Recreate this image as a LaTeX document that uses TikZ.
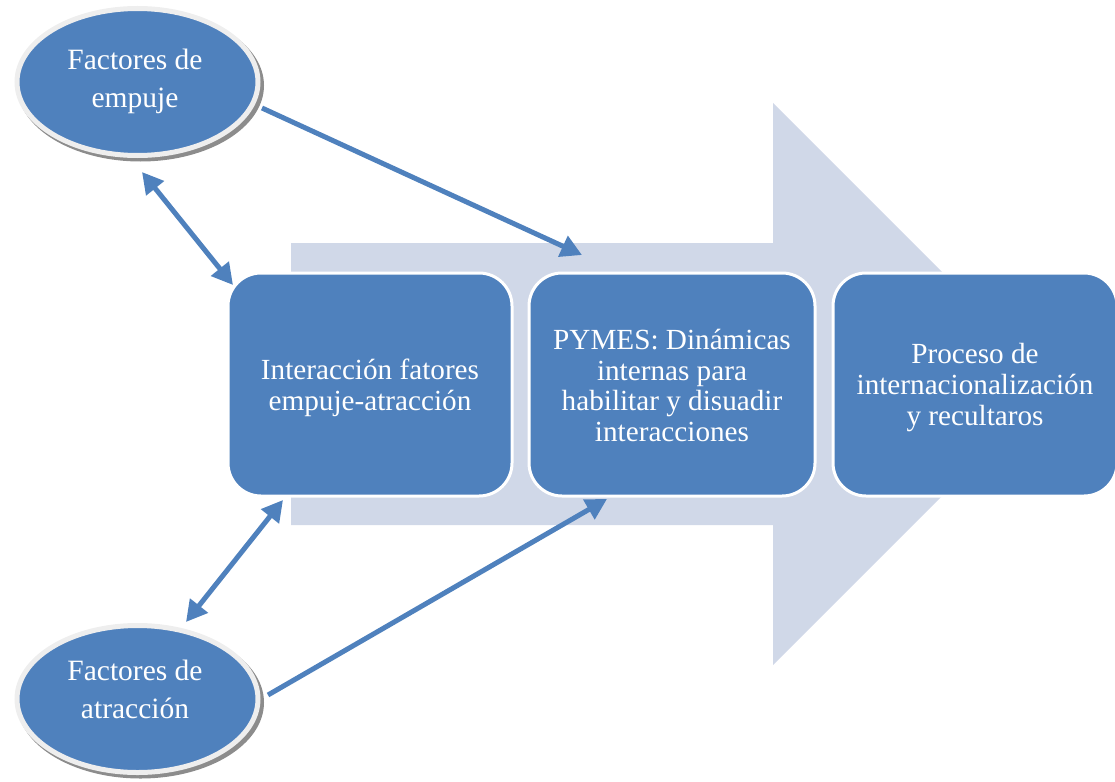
\documentclass[tikz,border=0pt]{standalone}
\usepackage{fontspec}
\setmainfont{Liberation Serif}
\usetikzlibrary{shapes.geometric,arrows.meta,calc}
\definecolor{boxblue}{HTML}{4F81BD}
\definecolor{flowgrey}{HTML}{D0D8E8}
\definecolor{rimgrey}{HTML}{EEEEEE}
\definecolor{shadowgrey}{HTML}{8C8C8C}
\tikzset{
  stagebox/.style={draw=white, line width=3pt, fill=boxblue, rounded corners=33pt,
    inner sep=0pt, minimum height=223pt},
  stagetext/.style={text=white, align=center, font=\fontsize{29.2}{30.8}\selectfont, inner sep=0pt},
  factor/.style={ellipse, draw=rimgrey, line width=5pt, fill=boxblue, inner sep=0pt,
    minimum width=241pt, minimum height=147pt},
  factorshadow/.style={ellipse, fill=shadowgrey, inner sep=0pt,
    minimum width=247pt, minimum height=152pt},
  factortext/.style={text=white, align=center, font=\fontsize{29.5}{38}\selectfont, inner sep=0pt},
  conn/.style={draw=boxblue, line width=5pt, -{Triangle[length=21pt,width=22pt]}},
  dconn/.style={draw=boxblue, line width=5pt, {Triangle[length=21pt,width=22pt]}-{Triangle[length=21pt,width=22pt]}},
}
\begin{document}
\begin{tikzpicture}[x=1pt,y=-1pt]
\useasboundingbox (0,0) rectangle (1115,781);

% wide flow arrow behind the stages
\fill[flowgrey] (291,243) -- (773,243) -- (773,103) -- (1054,384) -- (773,665)
  -- (773,525) -- (291,525) -- cycle;

% three stages
\node[stagebox, minimum width=284pt] (inter) at (370,384.5) {};
\node[stagebox, minimum width=286pt] (pymes) at (672,384.5) {};
\node[stagebox, minimum width=284pt] (proc) at (975,384.5) {};
\node[stagetext] (intertxt) at ($(inter)+(0,3)$) {Interacción fatores\\empuje-atracción};
\node[stagetext] (pymestxt) at ($(pymes)+(0,1)$) {PYMES: Dinámicas\\internas para\\habilitar y disuadir\\interacciones};
\node[stagetext] (proctxt) at ($(proc)+(0,3)$) {Proceso de\\internacionalización\\y recultaros};

% push and pull factors
\node[factorshadow] (pushsh) at (140.5,85.5) {};
\node[factor] (push) at (137.5,82) {};
\node[factortext] (pushtxt) at (135,81) {Factores de\\empuje};

\node[factorshadow] (pullsh) at (140.5,702.5) {};
\node[factor] (pull) at (137.5,699) {};
\node[factortext] (pulltxt) at (135,689) {Factores de\\atracción};

% connector end points
\coordinate (c1a) at (142,172);
\coordinate (c1b) at (233,285);
\coordinate (c2a) at (262,108);
\coordinate (c2b) at (582,255);
\coordinate (c3a) at (186,622);
\coordinate (c3b) at (283,500);
\coordinate (c4a) at (268,695);
\coordinate (c4b) at (607,499);

\draw[dconn] (c1a) -- (c1b);
\draw[conn] (c2a) -- (c2b);
\draw[dconn] (c3a) -- (c3b);
\draw[conn] (c4a) -- (c4b);
\end{tikzpicture}
\end{document}
